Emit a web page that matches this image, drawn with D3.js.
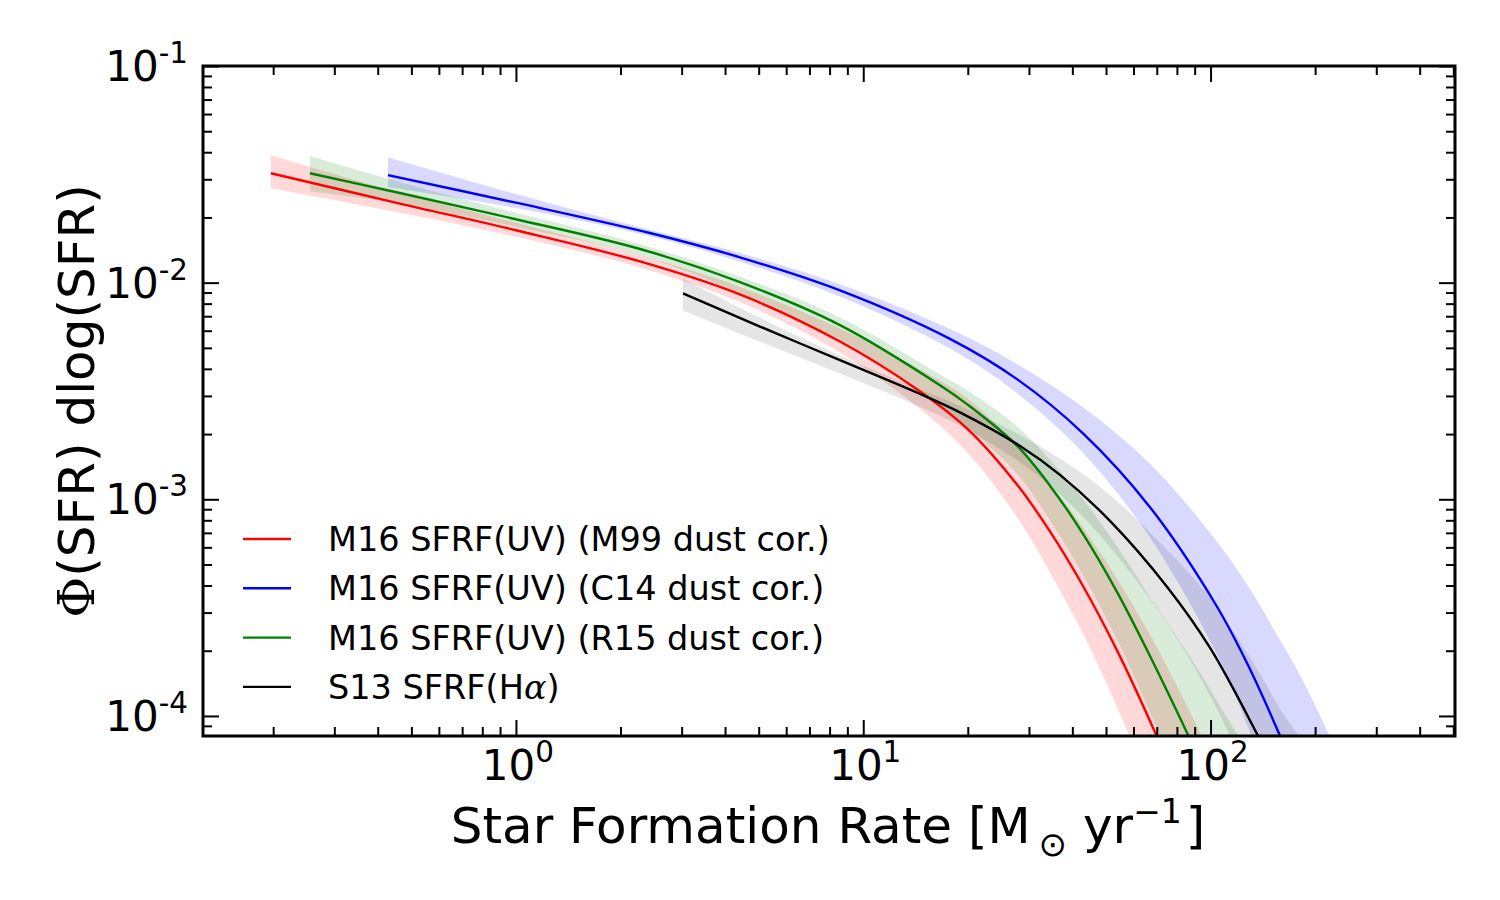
<!DOCTYPE html>
<html>
<head>
<meta charset="utf-8">
<script src="https://cdn.jsdelivr.net/npm/d3@7"></script>
<style>
  html, body { margin: 0; padding: 0; background: #fff; }
  svg { display: block; font-family: "DejaVu Sans", sans-serif; }
</style>
</head>
<body>
<svg id="chart" width="1500" height="900"></svg>
<script>
// ---------- data ----------
const seriesNames = ["M16 SFRF(UV) (M99 dust cor.)", "M16 SFRF(UV) (C14 dust cor.)", "M16 SFRF(UV) (R15 dust cor.)", "S13 SFRF(Hα)"];

// SFR [Msun/yr], Phi dlog(SFR), band half-widths in dex (up / down)
const redX = [0.197, 0.4634, 1.0, 2.276, 4.415, 8.569, 14.37, 20.02, 27.71, 34.48, 42.92, 53.77, 69.62, 81.63, 102.96];
const redY = [0.03200, 0.02318, 0.01745, 0.01253, 0.008820, 0.005346, 0.003194, 0.002102, 0.001169, 0.000711, 0.000398, 0.0002008, 0.0000822, 0.0000448, 0.0000171];
const redUp = [0.083, 0.05, 0.035, 0.028, 0.035, 0.06, 0.10, 0.14, 0.18, 0.22, 0.27, 0.33, 0.41, 0.46, 0.55];
const redDown = [0.069, 0.042, 0.03, 0.028, 0.035, 0.05, 0.08, 0.11, 0.15, 0.19, 0.22, 0.26, 0.31, 0.34, 0.40];

const blueX = [0.428, 1.0, 2.431, 4.415, 8.568, 17.77, 27.71, 42.92, 66.92, 104.3, 129.9, 158.4, 180.9, 220.0];
const blueY = [0.03133, 0.02339, 0.01695, 0.01309, 0.00921, 0.005502, 0.003587, 0.002017, 0.000920, 0.0003200, 0.0001642, 0.0000813, 0.0000500, 0.0000235];
const blueUp = [0.083, 0.04, 0.015, 0.02, 0.028, 0.045, 0.07, 0.12, 0.20, 0.30, 0.37, 0.44, 0.49, 0.54];
const blueDown = [0.055, 0.025, 0.015, 0.02, 0.028, 0.045, 0.065, 0.09, 0.14, 0.22, 0.29, 0.36, 0.40, 0.44];

const greenX = [0.2551, 0.4634, 1.0, 2.276, 4.415, 8.569, 16.63, 20.02, 27.71, 34.48, 42.92, 53.77, 66.92, 87.25, 110.0, 130.0];
const greenY = [0.03200, 0.02593, 0.01962, 0.01430, 0.01006, 0.006368, 0.003362, 0.002729, 0.001769, 0.001156, 0.000693, 0.000374, 0.0001892, 0.0000782, 0.0000345, 0.0000187];
const greenUp = [0.079, 0.05, 0.03, 0.022, 0.025, 0.035, 0.05, 0.065, 0.09, 0.12, 0.16, 0.21, 0.27, 0.38, 0.47, 0.55];
const greenDown = [0.083, 0.05, 0.035, 0.03, 0.05, 0.07, 0.09, 0.105, 0.13, 0.16, 0.19, 0.22, 0.26, 0.30, 0.34, 0.38];

const blackX = [3.026, 5.041, 8.569, 14.37, 18.98, 28.27, 36.85, 51.33, 74.90, 99.60, 136.0, 163.8, 190.0];
const blackY = [0.008924, 0.006273, 0.004387, 0.003094, 0.002519, 0.001762, 0.001297, 0.000795, 0.000395, 0.0002065, 0.0000827, 0.0000454, 0.0000276];
const blackUp = [0.069, 0.04, 0.022, 0.022, 0.03, 0.05, 0.075, 0.12, 0.17, 0.23, 0.30, 0.34, 0.42];
const blackDown = [0.079, 0.07, 0.062, 0.06, 0.062, 0.075, 0.09, 0.12, 0.17, 0.22, 0.28, 0.31, 0.34];

const xMajorTicks = [1, 10, 100];
const xMajorExp = ["0", "1", "2"];
const yMajorTicks = [1e-1, 1e-2, 1e-3, 1e-4];
const yMajorExp = ["-1", "-2", "-3", "-4"];
const xDomain = [0.1256, 505.6];
const yDomain = [8.08e-5, 0.1];

// ---------- layout ----------
const L = 203, R = 1455, T = 66, B = 736;
const svg = d3.select("#chart");
const x = d3.scaleLog().domain(xDomain).range([L, R]);
const y = d3.scaleLog().domain(yDomain).range([B, T]);

svg.append("defs").append("clipPath").attr("id", "plotclip")
  .append("rect").attr("x", L).attr("y", T).attr("width", R - L).attr("height", B - T);

const series = [
  { name: seriesNames[0], xs: redX, ys: redY, up: redUp, dn: redDown, color: "#ff0000", op: 0.15 },
  { name: seriesNames[1], xs: blueX, ys: blueY, up: blueUp, dn: blueDown, color: "#0000ff", op: 0.15 },
  { name: seriesNames[2], xs: greenX, ys: greenY, up: greenUp, dn: greenDown, color: "#008000", op: 0.15 },
  { name: seriesNames[3], xs: blackX, ys: blackY, up: blackUp, dn: blackDown, color: "#000000", op: 0.1 }
];

const plot = svg.append("g").attr("clip-path", "url(#plotclip)");
const curve = d3.curveCatmullRom.alpha(0.5);

// bands
series.forEach(s => {
  const pts = s.xs.map((v, i) => ({ x: v, hi: s.ys[i] * Math.pow(10, s.up[i]), lo: s.ys[i] / Math.pow(10, s.dn[i]) }));
  const area = d3.area().x(d => x(d.x)).y0(d => y(d.lo)).y1(d => y(d.hi)).curve(curve);
  plot.append("path").attr("d", area(pts)).attr("fill", s.color).attr("fill-opacity", s.op).attr("stroke", "none");
});
// lines
series.forEach(s => {
  const pts = s.xs.map((v, i) => ({ x: v, y: s.ys[i] }));
  const line = d3.line().x(d => x(d.x)).y(d => y(d.y)).curve(curve);
  plot.append("path").attr("d", line(pts)).attr("fill", "none").attr("stroke", s.color).attr("stroke-width", 2.4);
});

// ---------- axes ----------
const majLen = 16, minLen = 9;
const xt = x.ticks().filter(v => v >= xDomain[0] && v <= xDomain[1]);
const yt = y.ticks().filter(v => v >= yDomain[0] && v <= yDomain[1]);
const isMajor = v => Math.abs(Math.log10(v) - Math.round(Math.log10(v))) < 1e-9;

function styleTicks(g, attr, sign) {
  g.select(".domain").remove();
  g.selectAll(".tick line").attr(attr, d => sign * (isMajor(d) ? majLen : minLen))
    .attr("stroke", "#000").attr("stroke-width", 2);
}
const axisG = svg.append("g");
styleTicks(axisG.append("g").attr("transform", `translate(0,${B})`)
  .call(d3.axisBottom(x).tickValues(xt).tickSize(0).tickFormat("")), "y2", -1);
styleTicks(axisG.append("g").attr("transform", `translate(0,${T})`)
  .call(d3.axisTop(x).tickValues(xt).tickSize(0).tickFormat("")), "y2", 1);
styleTicks(axisG.append("g").attr("transform", `translate(${L},0)`)
  .call(d3.axisLeft(y).tickValues(yt).tickSize(0).tickFormat("")), "x2", 1);
styleTicks(axisG.append("g").attr("transform", `translate(${R},0)`)
  .call(d3.axisRight(y).tickValues(yt).tickSize(0).tickFormat("")), "x2", -1);

// frame
svg.append("rect").attr("x", L).attr("y", T).attr("width", R - L).attr("height", B - T)
  .attr("fill", "none").attr("stroke", "#000").attr("stroke-width", 3);

// tick labels
const tickFont = 42;
xMajorTicks.forEach((v, i) => {
  const t = svg.append("text").attr("x", x(v) + 2).attr("y", B + 44).attr("text-anchor", "middle")
    .attr("font-size", tickFont).attr("fill", "#000");
  t.append("tspan").text("10");
  t.append("tspan").attr("dy", -18).attr("font-size", tickFont * 0.7).text(xMajorExp[i]);
});
yMajorTicks.forEach((v, i) => {
  const t = svg.append("text").attr("x", L - 15).attr("y", y(v) + 15).attr("text-anchor", "end")
    .attr("font-size", tickFont).attr("fill", "#000");
  t.append("tspan").text("10");
  t.append("tspan").attr("dy", -18).attr("font-size", tickFont * 0.7).text(yMajorExp[i]);
});

// axis labels
const xl = svg.append("text").attr("x", 828).attr("y", 843).attr("text-anchor", "middle")
  .attr("font-size", 50).attr("fill", "#000");
xl.append("tspan").text("Star Formation Rate [M");
xl.append("tspan").attr("dx", 8).attr("dy", 13).attr("font-size", 34).text("⊙");
xl.append("tspan").attr("dy", -13).text("  yr");
xl.append("tspan").attr("dy", -20).attr("font-size", 33).text("−1");
xl.append("tspan").attr("dx", 4).attr("dy", 20).text("]");

const yl = svg.append("text").attr("transform", `translate(94,${(T + B) / 2}) rotate(-90)`)
  .attr("text-anchor", "middle").attr("font-size", 50).attr("fill", "#000");
yl.append("tspan").attr("font-family", "DejaVu Serif").text("Φ");
yl.append("tspan").text("(SFR) dlog(SFR)");

// legend
const legX = 243, legY0 = 539, legDy = 49.3;
series.forEach((s, i) => {
  const yy = legY0 + i * legDy;
  svg.append("line").attr("x1", legX).attr("x2", legX + 48).attr("y1", yy).attr("y2", yy)
    .attr("stroke", s.color).attr("stroke-width", 2.4);
  const t = svg.append("text").attr("x", 328).attr("y", yy + 12).attr("font-size", 33.5).attr("fill", "#000");
  if (s.name.endsWith("(Hα)")) {
    t.append("tspan").text("S13 SFRF(H");
    t.append("tspan").attr("font-family", "DejaVu Serif").attr("font-style", "italic").text("α");
    t.append("tspan").text(")");
  } else {
    t.text(s.name);
  }
});
</script>
</body>
</html>
